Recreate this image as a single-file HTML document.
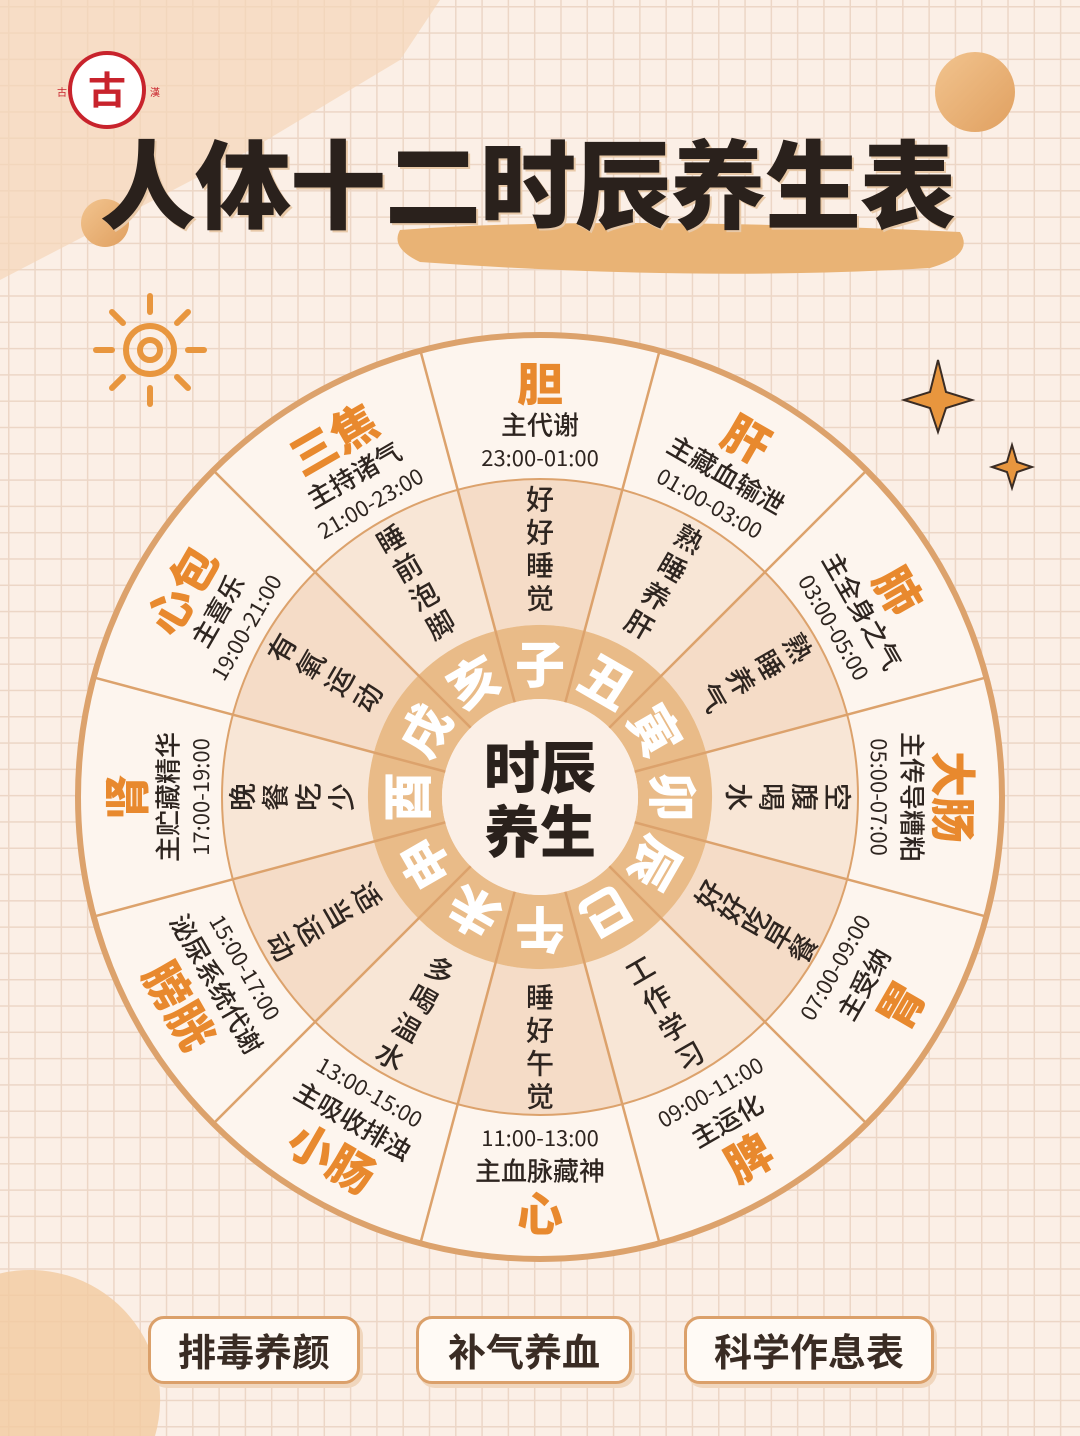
<!DOCTYPE html>
<html><head><meta charset="utf-8">
<style>
html,body{margin:0;padding:0;width:1080px;height:1436px;overflow:hidden}
body{background:#fbefe6;font-family:"Liberation Sans","Noto Sans CJK SC",sans-serif;position:relative}
svg{display:block}
.grid{position:absolute;left:0;top:0;width:1080px;height:1436px;background-image:linear-gradient(#ecd6c6 1.5px,transparent 1.5px),linear-gradient(90deg,#ecd6c6 1.5px,transparent 1.5px);background-size:26.3px 26.3px;background-position:8px 6px}
.title{position:absolute;left:100px;top:118px;font-size:96px;font-weight:900;color:#2a211c;letter-spacing:-1px;white-space:nowrap;font-family:"Noto Sans CJK SC",sans-serif;text-shadow:2px 2px 0 #e8c9a8;line-height:1.3}
.btn{position:absolute;top:1316px;height:62px;border:3px solid #dba06a;border-radius:16px;background:#fffaf5;box-shadow:3px 4px 0 #f0d6bd;font-size:38px;font-weight:700;color:#3a2c24;text-align:center;line-height:62px;font-family:"Noto Sans CJK SC",sans-serif;overflow:hidden}
</style></head>
<body>
<div class="grid"></div>
<svg width="1080" height="1436" style="position:absolute;left:0;top:0">
  <defs>
    <linearGradient id="g1" x1="0" y1="0" x2="1" y2="1"><stop offset="0" stop-color="#f2c48f"/><stop offset="1" stop-color="#e0a060"/></linearGradient>
  </defs>
  <polygon points="0,0 440,0 400,60 250,150 0,280" fill="#f5d6b8" opacity="0.7"/>
  <circle cx="975" cy="92" r="40" fill="url(#g1)"/>
  <circle cx="105" cy="223" r="24" fill="url(#g1)"/>
  <path d="M400,230 Q600,215 960,232 Q975,255 930,268 Q700,282 420,262 Q390,248 400,230Z" fill="#e9b375"/>
  <path d="M0,1273.5 A130,130 0 0 1 155,1436 L0,1436 Z" fill="#f2caa0" opacity="0.8"/>
  <g>
    <circle cx="107" cy="90" r="37" fill="#fff" stroke="#c8232c" stroke-width="4"/>
    <text x="107" y="104" font-size="38" fill="#c8232c" text-anchor="middle" font-weight="700" font-family="Noto Sans CJK SC">古</text>
    <text x="57" y="96" font-size="10" fill="#c8232c">古</text>
    <text x="150" y="96" font-size="10" fill="#c8232c">漢</text>
  </g>
  <g stroke="#e8963e" stroke-width="6" fill="none" stroke-linecap="round">
    <circle cx="150" cy="350" r="24"/>
    <circle cx="150" cy="350" r="10"/>
    <line x1="150" y1="296" x2="150" y2="312"/><line x1="150" y1="388" x2="150" y2="404"/>
    <line x1="96" y1="350" x2="112" y2="350"/><line x1="188" y1="350" x2="204" y2="350"/>
    <line x1="112" y1="312" x2="123" y2="323"/><line x1="177" y1="377" x2="188" y2="388"/>
    <line x1="188" y1="312" x2="177" y2="323"/><line x1="112" y1="388" x2="123" y2="377"/>
  </g>
  <path d="M938,360 L946,392 L972,400 L946,408 L938,432 L930,408 L904,400 L930,392Z" fill="#e8963e" stroke="#3a2c24" stroke-width="2"/>
  <path d="M1012,445 L1017,462 L1032,467 L1017,472 L1012,488 L1007,472 L992,467 L1007,462Z" fill="#e8963e" stroke="#3a2c24" stroke-width="2"/>
  <g id="wheel"></g>
</svg>
<div class="title">人体十二时辰养生表</div>
<div class="btn" style="left:148px;width:206px">排毒养颜</div>
<div class="btn" style="left:416px;width:210px">补气养血</div>
<div class="btn" style="left:684px;width:244px">科学作息表</div>
<script>
const branches=["子","丑","寅","卯","辰","巳","午","未","申","酉","戌","亥"];
const organs=["胆","肝","肺","大肠","胃","脾","心","小肠","膀胱","肾","心包","三焦"];
const functions=["主代谢","主藏血输泄","主全身之气","主传导糟粕","主受纳","主运化","主血脉藏神","主吸收排浊","泌尿系统代谢","主贮藏精华","主喜乐","主持诸气"];
const times=["23:00-01:00","01:00-03:00","03:00-05:00","05:00-07:00","07:00-09:00","09:00-11:00","11:00-13:00","13:00-15:00","15:00-17:00","17:00-19:00","19:00-21:00","21:00-23:00"];
const activities=["好好睡觉","熟睡养肝","熟睡养气","空腹喝水","好好吃早餐","工作学习","睡好午觉","多喝温水","适当运动","晚餐吃少","有氧运动","睡前泡脚"];
const cx=540,cy=797,R0=462,R1=318,R2=172,R3=98;
const NS="http://www.w3.org/2000/svg";
const W=document.getElementById('wheel');
function mk(tag,attrs,parent){const e=document.createElementNS(NS,tag);for(const k in attrs)e.setAttribute(k,attrs[k]);(parent||W).appendChild(e);return e;}
function pt(r,deg){const a=(deg-90)*Math.PI/180;return [cx+r*Math.cos(a),cy+r*Math.sin(a)];}
function sector(r1,r2,a1,a2){const p1=pt(r2,a1),p2=pt(r2,a2),p3=pt(r1,a2),p4=pt(r1,a1);return `M${p1} A${r2},${r2} 0 0 1 ${p2} L${p3} A${r1},${r1} 0 0 0 ${p4}Z`;}
const outer=mk('circle',{cx,cy,r:R0,fill:'#fdf5ee',stroke:'#dca26c','stroke-width':6});


branches.forEach((b,i)=>{
  const c=i*30;
  const s=mk('path',{d:sector(R2,R1,c-15,c+15),fill:i%2?'#f8e6d6':'#f5dcc7'});
  
  
  const s2=mk('path',{d:sector(R3,R2,c-15,c+15),fill:'#e9bb88'});
  
  
});
const inner=mk('circle',{cx,cy,r:R3,fill:'#fbefe6'});


branches.forEach((b,i)=>{
  const a=i*30+15;const p1=pt(R3,a),p2=pt(R0,a);
  const l=mk('line',{x1:p1[0],y1:p1[1],x2:p2[0],y2:p2[1],stroke:'#dca26c','stroke-width':2.5});
  
  
});
const ring=mk('circle',{cx,cy,r:R1,fill:'none',stroke:'#dca26c','stroke-width':2});


function txt(r,deg,rot,str,size,fill,weight,name){
  const p=pt(r,deg);
  const t=mk('text',{x:0,y:0,transform:`translate(${p[0]},${p[1]}) rotate(${rot})`,'font-size':size,fill,'font-weight':weight,'text-anchor':'middle','dominant-baseline':'central','font-family':'Noto Sans CJK SC, sans-serif'});
  t.textContent=str;
  
  
  return t;
}
branches.forEach((b,i)=>{
  const c=i*30;
  const flip=(c>90&&c<270);
  const rot=flip?c-180:c;
  txt(135,c,c,b,50,'#ffffff',900,'branch-label');
  txt(415,c,rot,organs[i],46,'#e8892e',900,'organ-label');
  txt(373,c,rot,functions[i],26,'#2e2520',500,'function-label');
  txt(340,c,rot,times[i],22,'#2e2520',400,'time-label');
  const chars=activities[i].split('');
  const n=chars.length,step=n>4?27:33,mid=(R1+R2)/2+4;
  chars.forEach((ch,k)=>{
    const off=(k-(n-1)/2)*step;
    const r=flip?mid+off:mid-off;
    txt(r,c,rot,ch,28,'#2e2520',500,'activity-char');
  });
});
const t1=txt(0,0,0,'时辰',56,'#2a211c',900,'center-title');
t1.setAttribute('transform',`translate(${cx},${cy-32})`);
const t2=txt(0,0,0,'养生',56,'#2a211c',900,'center-title');
t2.setAttribute('transform',`translate(${cx},${cy+32})`);
</script>
</body></html>
